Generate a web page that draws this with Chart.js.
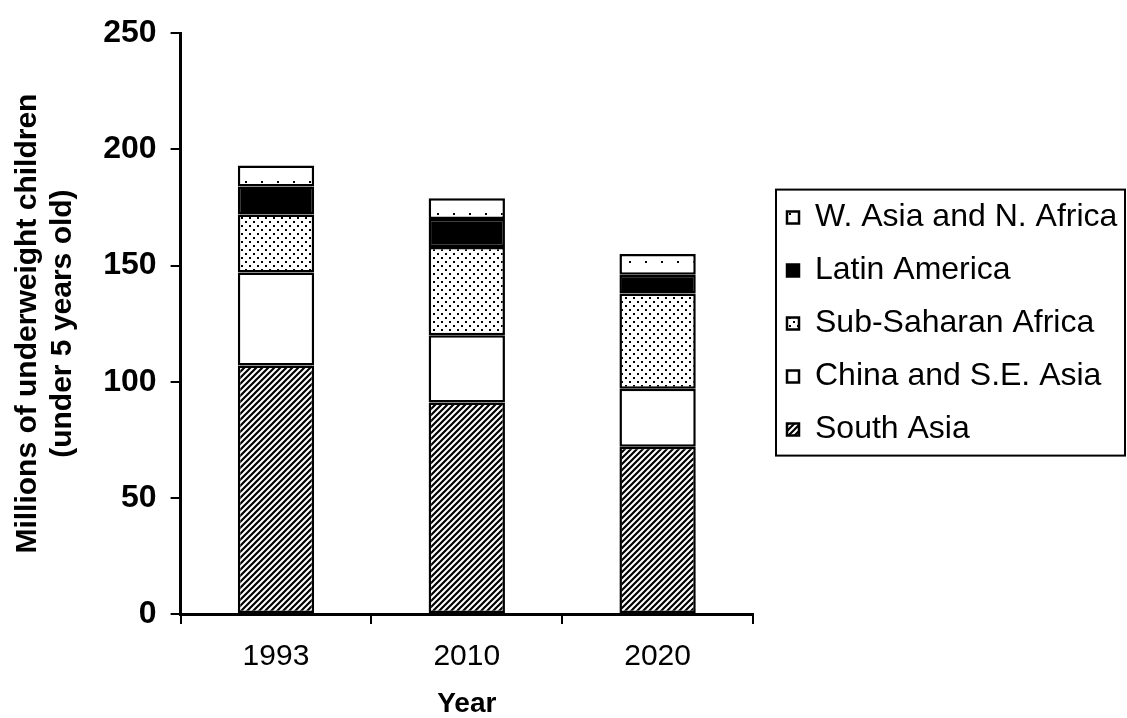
<!DOCTYPE html>
<html>
<head>
<meta charset="utf-8">
<script src="https://cdn.jsdelivr.net/npm/chart.js@4/dist/chart.umd.min.js"></script>
<style>
  html, body { margin: 0; padding: 0; background: #fff; }
  #wrap { width: 1127px; height: 718px; }
</style>
</head>
<body>
<div id="wrap"><canvas id="underweight-chart" width="1127" height="718"></canvas></div>
<script>
const years = ["1993", "2010", "2020"];
const southAsia = [107, 91, 72];
const chinaSEAsia = [40, 29, 25];
const subSaharanAfrica = [25, 38, 41];
const latinAmerica = [12, 12, 8];
const wAsiaNAfrica = [9, 9, 9];
const yTicks = [0, 50, 100, 150, 200, 250];

function makePattern(size, draw) {
    const c = document.createElement("canvas");
    c.width = size;
    c.height = size;
    const g = c.getContext("2d");
    g.fillStyle = "#fff";
    g.fillRect(0, 0, size, size);
    g.fillStyle = "#000";
    g.strokeStyle = "#000";
    draw(g, size);
    return document.getElementById("underweight-chart").getContext("2d").createPattern(c, "repeat");
}

// diagonal hatch "////"
const hatch = makePattern(6, (g, s) => {
    g.lineWidth = 2.2;
    g.beginPath();
    g.moveTo(-1, s + 1); g.lineTo(s + 1, -1);
    g.moveTo(-1, 1); g.lineTo(1, -1);
    g.moveTo(s - 1, s + 1); g.lineTo(s + 1, s - 1);
    g.stroke();
});

// dense staggered dots
const dots = makePattern(8, (g) => {
    g.fillRect(1, 1, 2, 2);
    g.fillRect(5, 5, 2, 2);
});

// sparse dots on white
const sparseDots = makePattern(16, (g) => {
    g.fillRect(5, 5, 2, 2);
});

const ctx = document.getElementById("underweight-chart");

const legendFrame = {
    id: "legendFrame",
    beforeLayout(chart) {
        // fixed legend width so the plot ends where the original does
        const lg = chart.legend;
        if (!lg._fixedWidth) {
            const fit = lg.fit;
            lg.fit = function() {
                fit.call(this);
                this.width = 374;
            };
            lg._fixedWidth = true;
        }
    },
    afterLayout(chart) {
        const lg = chart.legend;
        lg.left += 13;
        lg.right += 13;
    },
    afterDraw(chart) {
        const lg = chart.legend;
        const pad = lg.options.labels.padding;
        const itemH = lg.options.labels.font.size;
        const colH = lg.columnSizes[0].height;
        const y0 = (lg.top + pad + lg.bottom - colH) / 2;
        const n = lg.legendItems.length;
        const x0 = lg.left + pad;
        const c = chart.ctx;
        c.save();
        c.strokeStyle = "#000";
        c.lineWidth = 2;
        const left = x0 - 11;
        const top = y0 - 12;
        c.strokeRect(left, top, chart.width - 2 - left, (n - 1) * (itemH + pad) + itemH + 22);
        c.restore();
    }
};

new Chart(ctx, {
    type: "bar",
    data: {
        labels: years,
        datasets: [
            { label: "South Asia", data: southAsia, backgroundColor: hatch },
            { label: "China and S.E. Asia", data: chinaSEAsia, backgroundColor: "#fff" },
            { label: "Sub-Saharan Africa", data: subSaharanAfrica, backgroundColor: dots },
            { label: "Latin America", data: latinAmerica, backgroundColor: "#000" },
            { label: "W. Asia and N. Africa", data: wAsiaNAfrica, backgroundColor: sparseDots }
        ].map(ds => Object.assign(ds, {
            borderColor: "#000",
            borderWidth: 2.5,
            borderSkipped: false,
            barPercentage: 0.4,
            categoryPercentage: 1
        }))
    },
    options: {
        responsive: false,
        animation: false,
        layout: { padding: { top: 20, right: 0, bottom: 0, left: 10 } },
        plugins: {
            tooltip: { enabled: false },
            legend: {
                position: "right",
                fullSize: false,
                reverse: true,
                labels: {
                    color: "#000",
                    font: { family: "'Liberation Sans', Arial, sans-serif", size: 32 },
                    boxWidth: 12,
                    boxHeight: 12,
                    padding: 21
                }
            }
        },
        scales: {
            x: {
                stacked: true,
                grid: { drawOnChartArea: false, drawTicks: true, tickLength: 10, color: "#000", lineWidth: 2 },
                border: { display: true, color: "#000", width: 3 },
                ticks: {
                    color: "#000",
                    padding: 15,
                    font: { family: "'Liberation Sans', Arial, sans-serif", size: 30 }
                },
                title: {
                    display: true,
                    text: "Year",
                    color: "#000",
                    padding: { top: 0, bottom: 0 },
                    font: { family: "'Liberation Sans', Arial, sans-serif", size: 28, weight: "bold", lineHeight: 1 }
                }
            },
            y: {
                stacked: true,
                min: 0,
                max: 250,
                afterBuildTicks(axis) {
                    axis.ticks = yTicks.map(v => ({ value: v }));
                },
                grid: { drawOnChartArea: false, drawTicks: true, tickLength: 10, color: "#000", lineWidth: 2 },
                border: { display: true, color: "#000", width: 3 },
                ticks: {
                    color: "#000",
                    padding: 14,
                    font: { family: "'Liberation Sans', Arial, sans-serif", size: 32, weight: "bold" }
                },
                title: {
                    display: true,
                    text: ["Millions of underweight children", "(under 5 years old)"],
                    color: "#000",
                    padding: { top: 0, bottom: 9 },
                    font: { family: "'Liberation Sans', Arial, sans-serif", size: 30, weight: "bold", lineHeight: 1.17 }
                }
            }
        }
    },
    plugins: [legendFrame]
});
</script>
</body>
</html>
